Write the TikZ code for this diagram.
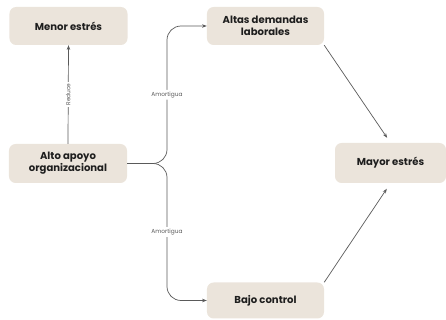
\documentclass[tikz,border=0pt]{standalone}
\usepackage{fontspec}
\setmainfont{Poppins}
\usetikzlibrary{arrows.meta}
\definecolor{boxfill}{HTML}{EBE4DB}
\definecolor{linegray}{HTML}{5A5A5A}
\definecolor{textdark}{HTML}{1E1E1E}

\begin{document}
\begin{tikzpicture}[x=0.03cm,y=-0.03cm,
  box/.style={rectangle,rounded corners=0.2cm,fill=boxfill,text=textdark,
    font=\fontsize{8.6}{10.4}\selectfont\bfseries,align=center,inner sep=0pt},
  conn/.style={draw=linegray,line width=0.6pt},
  arr/.style={conn,-{Stealth[length=4pt,width=3pt]}},
  lbl/.style={fill=white,text=linegray,font=\fontsize{5}{6}\selectfont,inner sep=1.5pt}]
  \useasboundingbox (0,0) rectangle (446,320);
%First node
  \node[box,minimum width=3.54cm,minimum height=1.14cm] (menor) at (68.5,26) {Menor estrés};
  \node[box,minimum width=3.54cm,minimum height=1.17cm] (alto) at (68,163.5) {Alto apoyo\\organizacional};
% Second node
  \node[box,minimum width=3.51cm,minimum height=1.14cm] (altas) at (265.5,26) {Altas demandas\\laborales};
  \node[box,minimum width=3.51cm,minimum height=1.08cm] (bajo) at (265.5,300.5) {Bajo control};
%Third node
  \node[box,minimum width=3.33cm,minimum height=1.2cm] (mayor) at (390.5,163) {Mayor estrés};
% bends
  \coordinate (fork) at (153,163.5);
  \coordinate (bendup) at (167,26);
  \coordinate (benddown) at (167,300.5);
% bond
  \draw[arr] (alto.north) -- node[lbl,rotate=90]{Reduce} (menor.south);
  \draw[conn] (alto.east) -- (fork);
  \draw[arr,rounded corners=0.42cm] (fork) -| node[lbl,pos=0.75]{Amortigua} (bendup) -- (altas.west);
  \draw[arr,rounded corners=0.42cm] (fork) -| node[lbl,pos=0.75]{Amortigua} (benddown) -- (bajo.west);
  \draw[arr,shorten >=0.18cm] (altas.south east) -- (mayor.north);
  \draw[arr,shorten >=0.2cm] (bajo.north east) -- (mayor.south);
\end{tikzpicture}
\end{document}
